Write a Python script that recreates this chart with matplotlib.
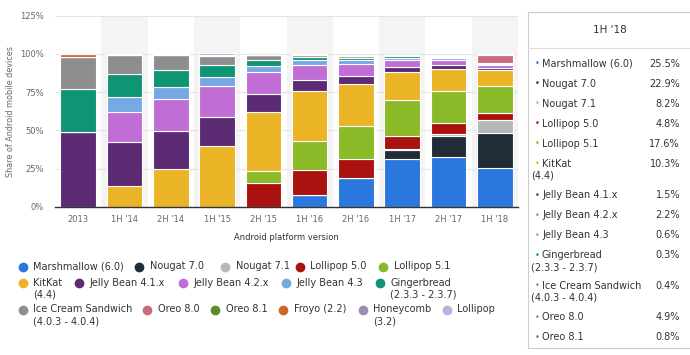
import numpy as np
import matplotlib
matplotlib.use("Agg")
import matplotlib.pyplot as plt
from matplotlib.patches import Rectangle

periods = ["2013", "1H '14", "2H '14", "1H '15", "2H '15", "1H '16", "2H '16", "1H '17", "2H '17", "1H '18"]

# stacked bottom -> top
marshmallow = [0, 0, 0, 0, 0, 7.5, 18.7, 31.2, 32.3, 25.5]
nougat_70 = [0, 0, 0, 0, 0, 0, 0, 6.1, 14.2, 22.9]
nougat_71 = [0, 0, 0, 0, 0, 0, 0, 0.5, 1.0, 8.2]
lollipop_50 = [0, 0, 0, 0, 15.8, 16.2, 12.3, 8.7, 7.2, 4.8]
lollipop_51 = [0, 0, 0, 0, 7.6, 19.4, 22.1, 23.1, 21.2, 17.6]
kitkat = [0, 13.6, 24.5, 40.0, 38.9, 32.5, 27.0, 18.8, 14.5, 10.3]
jb_41 = [48.6, 29.0, 25.1, 18.4, 11.6, 7.2, 5.4, 3.2, 2.4, 1.5]
jb_42 = [0, 19.1, 20.7, 20.3, 14.0, 10.0, 8.0, 4.6, 3.5, 2.2]
jb_43 = [0, 10.3, 8.0, 6.4, 4.5, 2.9, 2.2, 1.3, 1.0, 0.6]
gingerbread = [28.5, 14.9, 11.4, 7.4, 3.6, 2.0, 1.3, 1.0, 0.6, 0.3]
ics = [20.6, 12.3, 9.6, 6.4, 3.3, 1.9, 1.3, 0.8, 0.6, 0.4]
oreo_80 = [0, 0, 0, 0, 0, 0, 0, 0, 0, 4.9]
oreo_81 = [0, 0, 0, 0, 0, 0, 0, 0, 0, 0.8]
froyo = [2.2, 0.8, 0.7, 0.4, 0.3, 0.1, 0.1, 0, 0, 0]
honeycomb = [0.1, 0, 0, 0, 0, 0, 0, 0, 0, 0]
lollipop = [0, 0, 0, 1.6, 0, 0, 0, 0, 0, 0]

names = ["Marshmallow (6.0)", "Nougat 7.0", "Nougat 7.1", "Lollipop 5.0", "Lollipop 5.1",
         "KitKat\n(4.4)", "Jelly Bean 4.1.x", "Jelly Bean 4.2.x", "Jelly Bean 4.3",
         "Gingerbread\n(2.3.3 - 2.3.7)", "Ice Cream Sandwich\n(4.0.3 - 4.0.4)",
         "Oreo 8.0", "Oreo 8.1", "Froyo (2.2)", "Honeycomb\n(3.2)", "Lollipop"]
series = [marshmallow, nougat_70, nougat_71, lollipop_50, lollipop_51, kitkat, jb_41, jb_42,
          jb_43, gingerbread, ics, oreo_80, oreo_81, froyo, honeycomb, lollipop]
colors = ["#2a77dd", "#222c37", "#b7b7b7", "#a9120f", "#8aba27", "#ebb427", "#5d2a74", "#c06ed6",
          "#76a9e3", "#0f9474", "#8e8e8e", "#cc6b7f", "#5f8a30", "#d0652c", "#9c8db1", "#b3b5df"]

W, H = 690, 355
fig = plt.figure(figsize=(W / 100, H / 100), dpi=100)

# plot area in pixels
x0, x1, ytop, ybot = 55, 518, 15.7, 206.7
ax = fig.add_axes([x0 / W, 1 - ybot / H, (x1 - x0) / W, (ybot - ytop) / H])

x = np.arange(len(periods))
for i in range(1, len(periods), 2):
    ax.axvspan(i - 0.5, i + 0.5, color="#f4f4f4", zorder=0, lw=0)

bottom = np.zeros(len(periods))
for vals, c in zip(series, colors):
    v = np.array(vals, dtype=float)
    ax.bar(x, v, 0.77, bottom=bottom, color=c, edgecolor="white", linewidth=0.8, zorder=3)
    bottom += v

ax.set_xlim(-0.5, len(periods) - 0.5)
ax.set_ylim(0, 125)
ax.set_yticks([0, 25, 50, 75, 100, 125])
ax.set_yticklabels(["0%", "25%", "50%", "75%", "100%", "125%"])
ax.set_xticks(x)
ax.set_xticklabels(periods)
ax.tick_params(axis="both", length=0, labelsize=6, colors="#666666")
ax.tick_params(axis="x", pad=6)
ax.tick_params(axis="y", pad=8)
ax.yaxis.grid(True, color="#e4e4e4", lw=0.8, zorder=1)
ax.set_axisbelow(True)
for s in ["top", "right", "left"]:
    ax.spines[s].set_visible(False)
ax.spines["bottom"].set_color("#333333")
ax.spines["bottom"].set_linewidth(1)
ax.spines["bottom"].set_zorder(4)

# overlay in pixel coordinates for labels, legend and tooltip panel
ov = fig.add_axes([0, 0, 1, 1])
ov.set_xlim(0, W)
ov.set_ylim(H, 0)
ov.axis("off")

ov.text(11, 112, "Share of Android mobile devices", rotation=90, ha="center", va="center",
        fontsize=5.8, color="#666666")
ov.text((x0 + x1) / 2, 237, "Android platform version", ha="center", va="center",
        fontsize=6, color="#333333")

# legend (flow layout)
legend_rows = [
    (266.7, [(22.7, 0), (139, 1), (225, 2), (300, 3), (383, 4)]),
    (283.3, [(22.7, 5), (79, 6), (183, 7), (286, 8), (380, 9)]),
    (310.0, [(22.7, 10), (147, 11), (215, 12), (283, 13), (363, 14), (447, 15)]),
]
for yy, items in legend_rows:
    for xx, k in items:
        ov.scatter([xx], [yy], s=36, color=colors[k], zorder=5)
        ov.text(xx + 10.5, yy - 5.5, names[k], ha="left", va="top", fontsize=7,
                color="#333333", linespacing=1.25)

# tooltip panel
ov.add_patch(Rectangle((528, 12), 200, 336, facecolor="white", edgecolor="#cccccc", lw=0.8, zorder=1))
ov.plot([528, 690], [48, 48], color="#dddddd", lw=0.8, zorder=2)
last = len(periods) - 1
ov.text(610, 30, periods[last], ha="center", va="center", fontsize=7.5, color="#333333", zorder=3)

tip_idx = [k for k in range(len(series)) if series[k][last] > 0]
yy = 64
for k in tip_idx:
    lines = names[k].split("\n")
    ov.text(537, yy, "•", ha="center", va="center", fontsize=6, color=colors[k], zorder=3)
    ov.text(542, yy, lines[0], ha="left", va="center", fontsize=7, color="#333333", zorder=3)
    ov.text(680, yy, "%.1f%%" % series[k][last], ha="right", va="center", fontsize=7,
            color="#333333", zorder=3)
    if len(lines) > 1:
        ov.text(531, yy + 12, lines[1], ha="left", va="center", fontsize=7, color="#333333", zorder=3)
        yy += 31
    else:
        yy += 20

fig.savefig("out.png", dpi=100)
